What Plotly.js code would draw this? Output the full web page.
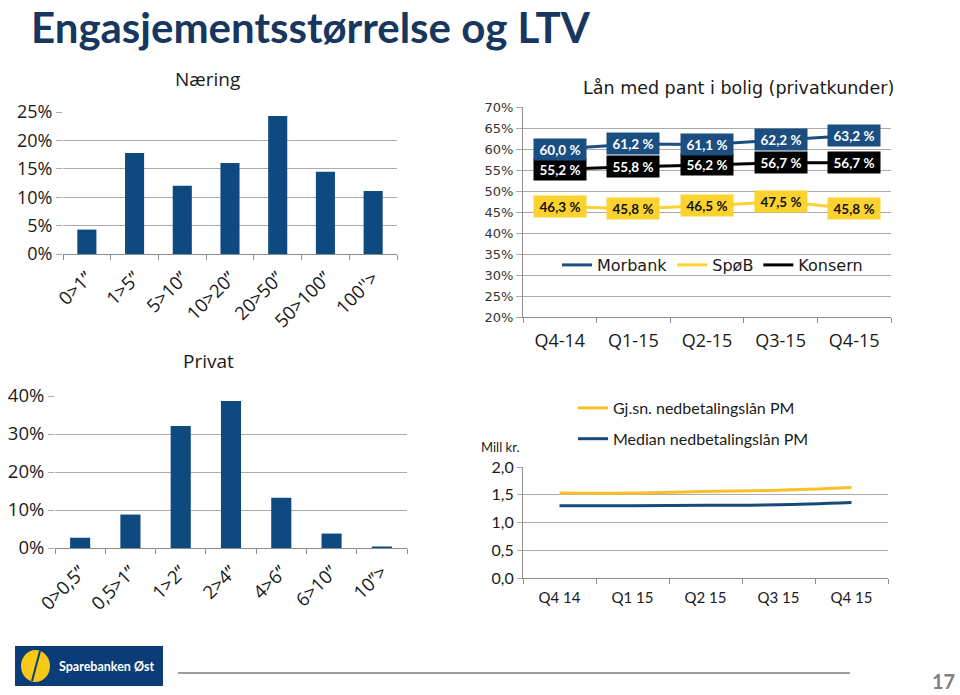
<!DOCTYPE html>
<html>
<head>
<meta charset="utf-8">
<script src="https://cdn.plot.ly/plotly-3.0.1.min.js"></script>
<style>
html,body{margin:0;padding:0;background:#fff;}
#chart{width:960px;height:695px;}
</style>
</head>
<body>
<div id="chart"></div>
<script>
// ---- data ----
const naeringCats = ['0>1’’', '1>5’’', '5>10’’', '10>20’’', '20>50’’', '50>100’’', "100''>"];
const naeringVals = [4.3, 17.8, 12.0, 16.0, 24.3, 14.5, 11.1];

const privatCats = ['0>0,5’’', '0,5>1’’', '1>2’’', '2>4’’', '4>6’’', '6>10’’', '10’’>'];
const privatVals = [2.7, 8.8, 32.1, 38.7, 13.2, 3.8, 0.4];

const ltvQuarters = ['Q4-14', 'Q1-15', 'Q2-15', 'Q3-15', 'Q4-15'];
const morbank = [60.0, 61.2, 61.1, 62.2, 63.2];
const spob = [46.3, 45.8, 46.5, 47.5, 45.8];
const konsern = [55.2, 55.8, 56.2, 56.7, 56.7];

const loanQuarters = ['Q4 14', 'Q1 15', 'Q2 15', 'Q3 15', 'Q4 15'];
const avgLoan = [1.53, 1.53, 1.56, 1.58, 1.63];
const medianLoan = [1.30, 1.30, 1.31, 1.32, 1.36];

// ---- styling ----
const BAR = '#0E4A80';
const BLUE = '#1B4F82';
const YELLOW = '#FCD22E';
const GOLD = '#F7C12A';
const NAVY = '#174A7A';
const GRID = '#ABABAB';
const AXIS = '#8C8C8C';
const W = 960, H = 695;
const px = v => v / W;
const py = v => 1 - v / H;

const traces = [
  {type:'bar', x:naeringCats, y:naeringVals, xaxis:'x', yaxis:'y', marker:{color:BAR}, showlegend:false, hoverinfo:'skip'},
  {type:'bar', x:privatCats, y:privatVals, xaxis:'x2', yaxis:'y2', marker:{color:BAR}, showlegend:false, hoverinfo:'skip'},
  {type:'scatter', mode:'lines', name:'Morbank', x:ltvQuarters, y:morbank, xaxis:'x3', yaxis:'y3', line:{color:BLUE, width:3}, legend:'legend'},
  {type:'scatter', mode:'lines', name:'SpøB', x:ltvQuarters, y:spob, xaxis:'x3', yaxis:'y3', line:{color:YELLOW, width:3}, legend:'legend'},
  {type:'scatter', mode:'lines', name:'Konsern', x:ltvQuarters, y:konsern, xaxis:'x3', yaxis:'y3', line:{color:'#000000', width:3}, legend:'legend'},
  {type:'scatter', mode:'lines', name:'Gj.sn. nedbetalingslån PM', x:loanQuarters, y:avgLoan, xaxis:'x4', yaxis:'y4', line:{color:GOLD, width:3, shape:'spline'}, legend:'legend2', legendgroup:'a'},
  {type:'scatter', mode:'lines', name:'Median nedbetalingslån PM', x:loanQuarters, y:medianLoan, xaxis:'x4', yaxis:'y4', line:{color:NAVY, width:3, shape:'spline'}, legend:'legend2', legendgroup:'b'}
];

function fmtPct(v){ return v.toFixed(1).replace('.', ',') + ' %'; }

function labelAnns(vals, bg, fg){
  return vals.map((v, i) => ({
    xref:'x3', yref:'y3', x: ltvQuarters[i], y: v, text: fmtPct(v),
    showarrow:false, bgcolor:bg, borderpad:2, width:48, height:17,
    font:{family:'Lato, Open Sans, sans-serif', size:13.5, color:fg, weight:'bold'},
    xanchor:'center', yanchor:'middle'
  }));
}

const catX = {
  type:'category', showgrid:false, showline:true, linecolor:AXIS, linewidth:1,
  ticks:'outside', tickson:'boundaries', ticklen:5, tickcolor:AXIS, zeroline:false
};
const valY = {
  showgrid:true, gridcolor:GRID, gridwidth:1, zeroline:false, ticks:'outside', ticklen:6, tickcolor:GRID
};

const layout = {
  width:W, height:H, margin:{l:0, r:0, t:0, b:0},
  paper_bgcolor:'#ffffff', plot_bgcolor:'rgba(0,0,0,0)',
  separators:', ', bargap:0.6,
  font:{family:'Open Sans, sans-serif', color:'#262626'},
  xaxis: Object.assign({}, catX, {domain:[px(63), px(397)], anchor:'y', range:[-0.5, 6.5], tickangle:-45, ticklabelstandoff:5,
          tickfont:{family:'Open Sans, sans-serif', size:18.5, color:'#1a1a1a'}}),
  yaxis: Object.assign({}, valY, {domain:[py(254), py(112)], anchor:'x', range:[0, 25], dtick:5, ticksuffix:'%',
          tickfont:{family:'Open Sans, sans-serif', size:18, color:'#1a1a1a'}}),
  xaxis2: Object.assign({}, catX, {domain:[px(55), px(407)], anchor:'y2', range:[-0.5, 6.5], tickangle:-45, ticklabelstandoff:5,
          tickfont:{family:'Open Sans, sans-serif', size:18.5, color:'#1a1a1a'}}),
  yaxis2: Object.assign({}, valY, {domain:[py(548), py(396)], anchor:'x2', range:[0, 40], dtick:10, ticksuffix:'%',
          tickfont:{family:'Open Sans, sans-serif', size:18.5, color:'#1a1a1a'}}),
  xaxis3: Object.assign({}, catX, {domain:[px(523), px(891)], anchor:'y3', range:[-0.5, 4.5], ticklabelstandoff:7,
          tickfont:{family:'Open Sans, sans-serif', size:18, color:'#1a1a1a'}}),
  yaxis3: Object.assign({}, valY, {domain:[py(317), py(107)], anchor:'x3', range:[20, 70], dtick:5, ticksuffix:'%',
          showline:true, linecolor:AXIS, tickfont:{family:'DejaVu Sans, sans-serif', size:13, color:'#333'}}),
  xaxis4: Object.assign({}, catX, {domain:[px(523), px(888)], anchor:'y4', range:[-0.5, 4.5], ticklabelstandoff:6,
          tickfont:{family:'Lato, sans-serif', size:15, color:'#1a1a1a'}}),
  yaxis4: Object.assign({}, valY, {domain:[py(578), py(467)], anchor:'x4', range:[0, 2], dtick:0.5, tickformat:'.1f',
          showline:true, linecolor:AXIS, ticklen:5, tickfont:{family:'Lato, sans-serif', size:16, color:'#1a1a1a'}}),
  legend:{orientation:'h', x:px(557), y:py(265), xanchor:'left', yanchor:'middle', bgcolor:'rgba(0,0,0,0)',
          font:{family:'DejaVu Sans, sans-serif', size:16, color:'#1a1a1a'}, itemwidth:30, tracegroupgap:0},
  legend2:{orientation:'v', x:px(573), y:py(391), xanchor:'left', yanchor:'top', bgcolor:'rgba(0,0,0,0)',
          font:{family:'Lato, sans-serif', size:16, color:'#1a1a1a'}, tracegroupgap:7},
  shapes:[
    {type:'rect', xref:'paper', yref:'paper', x0:px(15), x1:px(163), y0:py(686), y1:py(646), fillcolor:'#0B3C78', line:{width:0}},
    {type:'circle', xref:'paper', yref:'paper', x0:px(21), x1:px(50), y0:py(682), y1:py(650), fillcolor:'#F6C817', line:{width:0}},
    {type:'line', xref:'paper', yref:'paper', x0:px(32), x1:px(40), y0:py(681), y1:py(651), line:{color:'#0B3C78', width:2}},
    {type:'line', xref:'paper', yref:'paper', x0:px(178), x1:px(850), y0:py(673), y1:py(673), line:{color:'#9E9E9E', width:2}}
  ],
  annotations: [
    {xref:'paper', yref:'paper', x:px(29), y:1, xanchor:'left', yanchor:'top', showarrow:false,
     text:'Engasjementsstørrelse og LTV', font:{family:'Lato, sans-serif', size:42, color:'#17375E', weight:'bold'}},
    {xref:'paper', yref:'paper', x:px(207), y:py(79), xanchor:'center', yanchor:'middle', showarrow:false,
     text:'Næring', font:{family:'Open Sans, sans-serif', size:19, color:'#1a1a1a'}},
    {xref:'paper', yref:'paper', x:px(208), y:py(361), xanchor:'center', yanchor:'middle', showarrow:false,
     text:'Privat', font:{family:'Open Sans, sans-serif', size:19, color:'#1a1a1a'}},
    {xref:'paper', yref:'paper', x:px(738), y:py(88), xanchor:'center', yanchor:'middle', showarrow:false,
     text:'Lån med pant i bolig (privatkunder)', font:{family:'DejaVu Sans, sans-serif', size:17.5, color:'#1a1a1a'}},
    {xref:'paper', yref:'paper', x:px(479), y:py(447), xanchor:'left', yanchor:'middle', showarrow:false,
     text:'Mill kr.', font:{family:'Lato, sans-serif', size:13, color:'#1a1a1a'}},
    {xref:'paper', yref:'paper', x:px(57), y:py(666), xanchor:'left', yanchor:'middle', showarrow:false,
     text:'Sparebanken Øst', font:{family:'Lato, sans-serif', size:12.5, color:'#ffffff', weight:'bold'}},
    {xref:'paper', yref:'paper', x:px(957), y:0, xanchor:'right', yanchor:'bottom', showarrow:false,
     text:'17', font:{family:'Lato, sans-serif', size:20, color:'#7F7F7F', weight:'bold'}}
  ].concat(labelAnns(spob, YELLOW, '#111'))
   .concat(labelAnns(konsern, '#000000', '#ffffff'))
   .concat(labelAnns(morbank, BLUE, '#ffffff'))
};

Plotly.newPlot('chart', traces, layout, {displayModeBar:false, staticPlot:true});
</script>
</body>
</html>
